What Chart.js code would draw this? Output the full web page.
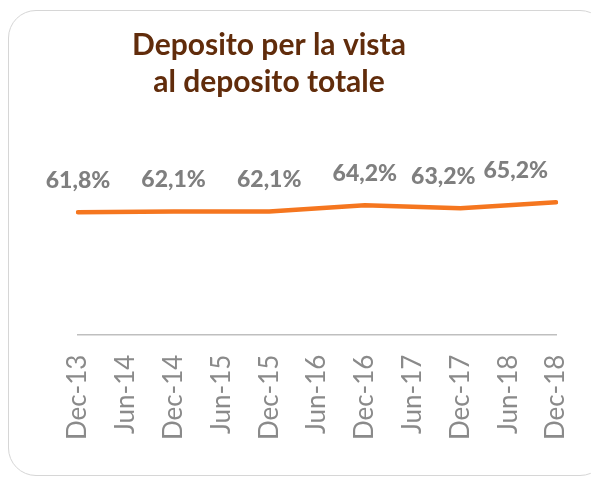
<!DOCTYPE html>
<html>
<head>
<meta charset="utf-8">
<script src="https://cdn.jsdelivr.net/npm/chart.js@4"></script>
<style>
  html, body { margin: 0; padding: 0; background: #fff; }
  #wrap { position: relative; width: 591px; height: 478px; overflow: hidden; }
  #cornice {
    position: absolute; left: 8px; top: 10px; width: 600px; height: 466px;
    border: 1.5px solid #d6d6d6; border-radius: 28px; box-sizing: border-box;
  }
  #grafico { position: absolute; left: 0; top: 0; }
</style>
</head>
<body>
<div id="wrap">
  <div id="cornice"></div>
  <canvas id="grafico" width="591" height="478"></canvas>
</div>
<script>
// dati del grafico
const periodi = ["Dec-13", "Jun-14", "Dec-14", "Jun-15", "Dec-15", "Jun-16", "Dec-16", "Jun-17", "Dec-17", "Jun-18", "Dec-18"];
const depositoVista = [61.8, null, 62.1, null, 62.1, null, 64.2, null, 63.2, null, 65.2];
const titoloRighe = ["Deposito per la vista", "al deposito totale"];

/**
 * Titolo centrato a mano (non al centro del canvas)
 */
const titoloPlugin = {
  id: "titolo",
  afterDraw(chart) {
    const ctx = chart.ctx;
    ctx.save();
    ctx.font = "bold 30px Lato";
    ctx.fillStyle = "#612c0b";
    ctx.textAlign = "center";
    ctx.textBaseline = "alphabetic";
    titoloRighe.forEach((riga, i) => {
      ctx.fillText(riga, 269, 55 + i * 37);
    });
    ctx.restore();
  },
};

/**
 * Etichette dei valori sopra i punti
 */
const etichettePlugin = {
  id: "etichette",
  afterDatasetsDraw(chart) {
    const ctx = chart.ctx;
    const meta = chart.getDatasetMeta(0);
    const area = chart.chartArea;
    ctx.save();
    ctx.font = "900 23px Lato";
    ctx.fillStyle = "#7f7f7f";
    ctx.textAlign = "center";
    ctx.textBaseline = "middle";

    const etichette = [];
    meta.data.forEach((pt, i) => {
      const v = depositoVista[i];
      if (v === null) return;
      const testo = v.toFixed(1).replace(".", ",") + "%";
      etichette.push({ testo, x: pt.x, y: pt.y - 32, w: ctx.measureText(testo).width });
    });

    // da destra a sinistra: dentro il bordo e senza sovrapposizioni
    let limite = area.right - 8;
    for (let i = etichette.length - 1; i >= 0; i--) {
      const e = etichette[i];
      if (e.x + e.w / 2 > limite) e.x = limite - e.w / 2;
      limite = e.x - e.w / 2 - 8;
    }
    etichette.forEach((e) => ctx.fillText(e.testo, e.x, e.y));
    ctx.restore();
  },
};

const ctx = document.getElementById("grafico").getContext("2d");
new Chart(ctx, {
  type: "line",
  data: {
    labels: periodi,
    datasets: [
      {
        label: "Deposito per la vista",
        data: depositoVista,
        borderColor: "#f5761f",
        borderWidth: 4.5,
        borderCapStyle: "round",
        borderJoinStyle: "round",
        pointRadius: 0,
        tension: 0,
        spanGaps: true,
        fill: false,
      },
    ],
  },
  options: {
    responsive: false,
    animation: false,
    layout: { padding: { top: 159, left: 78, right: 35, bottom: 18 } },
    plugins: {
      legend: { display: false },
      tooltip: { enabled: false },
      title: { display: false },
    },
    scales: {
      x: {
        offset: false,
        grid: { display: false, drawTicks: false },
        border: { display: true, color: "#bfbfbf", width: 1.5 },
        ticks: {
          color: "#8a8a8a",
          font: { family: "Lato", size: 26 },
          minRotation: 90,
          maxRotation: 90,
          autoSkip: false,
          padding: 20,
        },
        // le etichette ruotate non devono restringere l'area
        afterFit(scale) {
          scale.paddingLeft = 0;
          scale.paddingRight = 0;
        },
      },
      y: {
        display: false,
        min: 20,
        max: 80,
      },
    },
  },
  plugins: [titoloPlugin, etichettePlugin],
});
</script>
</body>
</html>
